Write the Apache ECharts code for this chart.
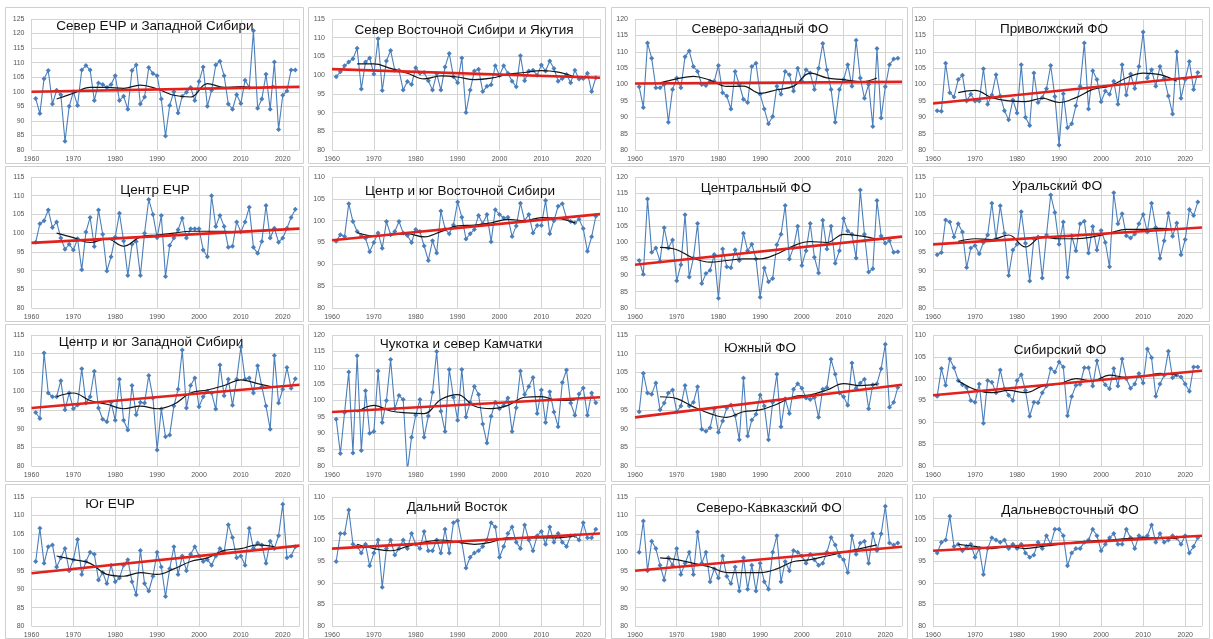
<!DOCTYPE html>
<html><head><meta charset="utf-8">
<script src="https://cdn.jsdelivr.net/npm/echarts@6/dist/echarts.min.js"></script>
<style>html,body{margin:0;padding:0;background:#fff}#c{width:1213px;height:639px}</style>
</head><body><div id="c"></div>
<script>
const years = [1961,1962,1963,1964,1965,1966,1967,1968,1969,1970,1971,1972,1973,1974,1975,1976,1977,1978,1979,1980,1981,1982,1983,1984,1985,1986,1987,1988,1989,1990,1991,1992,1993,1994,1995,1996,1997,1998,1999,2000,2001,2002,2003,2004,2005,2006,2007,2008,2009,2010,2011,2012,2013,2014,2015,2016,2017,2018,2019,2020,2021,2022,2023];
const maYears = [1966,1970,1974,1978,1982,1986,1990,1994,1998,2002,2006,2010,2014,2018];
const trendYears = [1960, 2024];

const titles = ["Север ЕЧР и Западной Сибири","Север Восточной Сибири и Якутия","Северо-западный ФО","Приволжский ФО",
"Центр ЕЧР","Центр и юг Восточной Сибири","Центральный ФО","Уральский ФО",
"Центр и юг Западной Сибири","Чукотка и север Камчатки","Южный ФО","Сибирский ФО",
"Юг ЕЧР","Дальний Восток","Северо-Кавказский ФО","Дальневосточный ФО"];
const yMax = [125,115,120,120, 115,110,120,115, 115,120,115,110, 115,110,115,110];

const v01 = [97.7,92.5,104.5,107.3,95.8,100.5,99,83,95,100, 95.3,107.5,109,107.5,97,103,102.5,101.5,102.5,105.5, 97,98.5,94,107.3,109.2,95.8,98.2,108.3,106.3,105.5, 97.5,84.8,95.3,100,92.7,98.5,99.8,101.5,97,103.5, 108.5,95,100.5,109.2,110.5,105.5,95.8,94,99,96, 104,101.5,121,94.3,97.5,106,94,110.2,87,98.8, 100.3,107.5,107.5];
const v02 = [99.6,100.9,102.5,103.5,104.4,107.2,96.3,103.5,104.6,100.3, 109.7,95.9,103.8,106.6,101.3,101.3,96,98.3,97.5,102, 100.5,100.7,98.5,96,100.4,96,102.2,105.8,99.6,98, 104.6,90,96,101.1,101.6,95.6,97,97.4,102.5,99.9, 102.5,100.5,98.4,96.9,105.2,98.5,101.1,101.3,100,102.7, 101.1,103.8,101.8,98.4,99.1,100.2,98,101.3,99,99.1, 100.5,95.6,99.3];
const v03 = [99.3,93,112.7,108,99,99,100,88.5,98.5,102, 99,108.5,110.2,105.5,104,100,99.7,101,101,105.8, 97.5,96.5,92.5,104,100,95.5,94.5,105.5,106.5,97, 92.5,88,90.2,99.5,97,104,103,98,105,101, 104.5,103.5,98.5,105,112.5,104.5,98.5,88.5,98.5,101.5, 106,99.5,113.5,102,95.8,100,87.2,111,89.8,99.3, 106,107.8,108];
const v04 = [92,91.8,106.5,97.5,96.2,101.5,102.8,95,97,95, 95,104.8,94,96.8,103,96.5,92,89.2,95.3,91.3, 106,90,87.5,103.5,94.5,96,98.7,105.8,96.3,81.5, 97.2,86.8,88,93.5,99.5,112.7,92.5,104.2,101.5,94.7, 98,97,101,94,106,96.8,103.2,98.8,105.5,116, 102,104.5,99.5,105.5,102,96.5,91,110,95.8,101.5, 107,98.5,103.7];
const v05 = [97.6,102.5,103.3,106.2,101.5,103,98.7,95.7,97,95.5, 98.5,90.2,100.3,104.2,96.4,106.2,99.7,89.9,93.7,99, 105.3,97.9,88.7,97,97.8,88.7,100,109,105,98.8, 104.7,88.4,96.7,98.7,100.9,104,98.7,101.2,101.2,101.2, 95.5,93.7,110,101.8,104.7,101.8,96.2,96.5,103,100.3, 103,106.9,96.2,94.6,97.8,107.4,98.7,101.3,97.6,98.7, 101.3,104.2,106.4];
const v06 = [95.3,96.8,96.4,103.9,99.8,97.5,96.5,96,92.9,95, 97.2,93.7,99.8,96.8,97.5,99.8,97.2,96.6,95,98, 97.5,94.2,90.9,95.4,92.6,102.2,98.1,97,99,104.3, 100.8,95.8,97,98,101.2,99.3,101.4,95.2,102.5,101.4, 100.6,100.8,96.4,98.8,104,100,101.4,97.2,98.9,98.9, 104.6,97,100,103.3,103.9,100.6,99.8,99.5,100.3,98.2, 93,96.3,101];
const v07 = [94.5,90.3,113.3,97,98.3,94.3,104.5,98.3,100.8,88.3, 93.2,108.5,89.5,95.3,105.8,87.5,90.5,91.5,96.3,83, 98,92.6,92.3,97.8,94.5,102.8,97.5,99.5,95,83.3, 92.2,88,89,99.3,102.5,111.3,95,98.5,105,93, 97.5,105.8,95.5,90.7,106.8,98,105,93.7,97.5,107.3, 103.5,102.5,95.3,116,102.5,91,92,112.8,102,99.8, 100.5,97,97.2];
const v08 = [94.2,94.8,103.5,103,99,102.5,100.3,90.8,96,96.7, 94.5,97.5,99.5,108,98.5,107.3,100,88.7,95.5,97, 105.7,97.3,87.2,98.5,99,88,99.5,110.2,105.5,97, 103,88.2,99.3,95.3,102.5,103.2,94.7,101.8,95.5,100.7, 97.5,91,110.8,102.5,105.2,99.3,98.7,99.8,102.5,105, 100.3,108,101.5,93.3,98,105.3,99.2,102.7,94.2,98.3, 106.3,104.7,108.3];
const v09 = [94.3,92.7,110.2,99.5,98.5,98.5,102.8,95,99.5,95.3, 96.3,106,96.8,98.5,105.3,95.5,92.5,91.8,97,92.2, 103.2,92.2,89.6,101.5,93.7,97,96.8,104.2,98.2,84.3, 95.2,87.8,88.3,96,100.5,111,95.5,101.5,103.5,95.8, 98.5,100,99.5,95.2,107,98.8,103.2,96.2,103.2,111.8, 103.2,103.5,99.5,106.8,101.2,96,89.8,109.5,96.8,100.5, 106.3,100.8,103.3];
const v10 = [94.3,83.8,96.3,108.7,84,113.7,84.7,103,90,90.5, 109,93.3,100,112.5,97.5,101.5,100.3,78.5,88.8,95.5, 100.3,88.8,95.3,102.5,115,96.7,90.5,109.5,101,94, 109.5,95,99.5,104.3,101.8,92.8,87,95.2,99.5,97.5, 98.5,100.8,90.5,97.8,109,101.8,104.3,107,96,103.2, 93.3,102.7,96.5,92,105.5,109.3,99.2,95.5,102,103.8, 95.5,102.3,99.3];
const v11 = [94.5,104.8,99.5,99.2,102.2,95,96.8,99.5,100.3,94.5, 96,101.5,96,97,101.2,89.8,89.3,90.2,95.3,89, 92,95.5,96.3,93.5,87,103.5,88,92.3,93.8,99, 96,87,97,104.5,90.5,98,94,100.5,102,100.8, 98.2,97.8,98.3,93,100.5,101,108.5,104.5,99.5,98.5, 96.2,107.5,100.8,102.2,103.2,95.3,101.7,102,106,112.5, 95.7,97,101];
const v12 = [96,102.3,98.5,104.5,102.5,99.6,98.6,98,95,94.6, 98.8,89.8,99.6,99.2,96.8,102,97.7,96.2,95,99.6, 100.9,97.3,91.4,94.6,94.5,96.8,98.3,102.3,101.5,103.8, 102.7,91.5,95.9,98.5,98.7,102.5,102.5,98.3,104.1,100, 98.6,97.7,102.3,98.3,104.5,100,97.8,98.8,101.2,99, 106.8,104.8,96,98.8,100.8,106.3,100.2,100.8,100.4,98.8, 97.1,102.7,102.7];
const v13 = [97.5,106.5,97,101.5,102,96,98.5,101,95,98, 103.5,94,97.5,100,99.5,92.5,94.5,91.5,96.5,92, 93,96.5,98,92,88.5,100.5,91.5,89.5,93.5,100, 96,88,95.5,101.5,94,99,95,99.5,101.5,99, 97.5,98,96.5,99,101,100,107.5,104,98.5,99, 96.5,106.5,101,102.5,102,97,103,101,104.5,113, 98.5,99,101.5];
const v14 = [95,101.5,101.5,107,99,98.5,97,99,94,97, 100,89,98,100,96.5,98,100,98,101.5,99, 98,102,97.5,97.5,100,97,102.5,97,104,104.5, 99.5,93.5,96,97,97.5,98.5,100,104,103,96, 98.5,101.5,103,99.5,98,103.5,100,97.5,101,102, 99,103,99.5,101.5,99.5,98.5,101,101,100,104, 100.5,100.5,102.5];
const v15 = [100,108.5,95,103,101,96.5,92.5,98.5,96.5,101, 94,97,100,94,105.5,97,100,92,95.5,93, 99,93.5,91.5,96,89.5,98.5,90,96.5,89.5,97, 92,90,100,104.5,92,97.5,95,100.5,100,99, 97,99.5,98,96.5,97,100,104,102,99,98, 94.5,104.5,99.5,102.5,103,97,105,100.5,105,112.5, 102.5,102,102.5];
const v16 = [97,99.5,100,105.5,98.5,99,97.5,98.5,99,96, 98,92,98,100.5,100,99.5,100,98,99,98, 99,97,96,96.5,99.5,98,101,99,102.5,102.5, 101,94,97,98,98,99.5,100,102.5,101,97.5, 99,100.5,101.5,99,99,102.5,100.5,98,101,100.5, 101,103.5,99.5,101.5,99.5,100,101,100.5,99,101, 97,98.5,100.5];

const ma01 = [97.5,99.5,101.5,101.5,101.2,102.3,101,98.8,98.2,102.8,101.5,101.8,101.3,102];
const ma02 = [103,103,101.8,100.5,99,99.8,99.5,98.8,99.2,100.2,100.7,101.2,100.8,99.5];
const ma03 = [100.5,101.7,102.5,101.3,99.4,99.5,97.3,98.4,99.5,103.5,102,101.5,100.8,102];
const ma04 = [97.5,98.2,96,95,94.8,95.8,94.5,96,98.5,99.5,102,103.5,103,101];
const ma05 = [100,98.8,97.5,98.5,96.5,99,99.5,100,100.5,100.5,100.5,100.3,100.5,101];
const ma06 = [97.3,96.5,96.8,97,96.3,97.5,98.8,99,99.5,100.3,100,100.7,100.5,99.5];
const ma07 = [98.5,97.8,95.2,94,94.5,95,95,96.5,99,100.3,100,102.5,102,101];
const ma08 = [97.8,98.5,98.3,99.5,96.3,99,98.5,98.5,99,100,101,101,101.3,101];
const ma09 = [98.5,99.5,97.5,96.5,95.3,96,95.3,96.5,99.5,100.3,101.5,103,102,101];
const ma10 = [96.5,98.5,96.8,96.2,96,100.3,101.8,98.3,97.5,98.5,101,101.2,100,100.2];
const ma11 = [98.5,98,95.8,94,93,94.5,95,96.5,98.5,99,100.3,102,101.5,101.8];
const ma12 = [99.5,97.5,96.8,97.3,96.8,98.3,98.8,100,99.5,100.8,100.3,100.5,101.2,100.8];
const ma13 = [99,98,97,94,93.5,94.5,94,95.5,97.5,98.5,100.5,101,102,101.5];
const ma14 = [99,98,97.5,98.5,99.5,100,99.5,99,99.5,100.5,100.5,100.5,100.5,101];
const ma15 = [98.5,98,97,96,94.5,94.5,94.5,95.5,97.5,98,99,100,101,102];
const ma16 = [99,98.5,98,98.5,98,98.5,99,99.5,99.8,100,100.3,100.5,100.5,100.3];

const tr01=[100,101.7], tr02=[101.6,99.3], tr03=[100.3,100.8], tr04=[94.2,102.5],
      tr05=[97.4,101.2], tr06=[95.5,101.5], tr07=[93.2,101.8], tr08=[97,101.5],
      tr09=[95.5,101.7], tr10=[96.5,101], tr11=[93,101.7], tr12=[96.2,101.8],
      tr13=[94.3,101.8], tr14=[98,101.5], tr15=[95,101.5], tr16=[97.5,101];

const values = [v01,v02,v03,v04,v05,v06,v07,v08,v09,v10,v11,v12,v13,v14,v15,v16];
const mas = [ma01,ma02,ma03,ma04,ma05,ma06,ma07,ma08,ma09,ma10,ma11,ma12,ma13,ma14,ma15,ma16];
const trends = [tr01,tr02,tr03,tr04,tr05,tr06,tr07,tr08,tr09,tr10,tr11,tr12,tr13,tr14,tr15,tr16];

// layout
const colLeft = [31.5, 332, 635, 933];
const colWidth = [268, 268, 267, 269];
const rowTop = [19, 177, 335, 497];
const rowHeight = [131, 131, 131, 130];
const titlePos = [[155,26],[464,30],[760,29],[1054,29],[155,190],[460,191],[756,188],[1057,186],[151,342],[461,344],[760,348],[1060,350],[110,504],[457,507],[769,508],[1070,510]];
const frameX = [[5,303],[308,605],[611,907],[912,1209]];
const frameY = [[7,163],[166,321],[324,481],[484,638]];

const FONT = '"Liberation Sans", Arial, sans-serif';
const grids=[], xAxes=[], yAxes=[], series=[], graphics=[];
for (let i=0;i<16;i++){
  const r=Math.floor(i/4), c=i%4;
  grids.push({left:colLeft[c], top:rowTop[r], width:colWidth[c], height:rowHeight[r]});
  xAxes.push({type:'value', gridIndex:i, min:1960, max:2024, interval:10,
    axisLine:{show:false}, axisTick:{show:false},
    splitLine:{show:true, lineStyle:{color:'#d4d4d4', width:1}},
    axisLabel:{fontSize:7, color:'#555', fontFamily:FONT, margin:6, showMaxLabel:false, formatter:v=>String(v)}});
  yAxes.push({type:'value', gridIndex:i, min:80, max:yMax[i], interval:5,
    axisLine:{show:false}, axisTick:{show:false},
    splitLine:{show:true, lineStyle:{color:'#d4d4d4', width:1}},
    axisLabel:{fontSize:7, color:'#555', fontFamily:FONT, margin:7}});
  series.push({type:'line', xAxisIndex:i, yAxisIndex:i, data:years.map((y,k)=>[y, values[i][k]]),
    symbol:'diamond', symbolSize:5, showSymbol:true, clip:true,
    lineStyle:{color:'#4a7fbb', width:1.1}, itemStyle:{color:'#4a7fbb'}, z:2, silent:true, animation:false});
  series.push({type:'line', xAxisIndex:i, yAxisIndex:i, data:maYears.map((y,k)=>[y, mas[i][k]]),
    symbol:'none', smooth:0.4, clip:true, lineStyle:{color:'#151515', width:1.2}, z:3, silent:true, animation:false});
  series.push({type:'line', xAxisIndex:i, yAxisIndex:i, data:trendYears.map((y,k)=>[y, trends[i][k]]),
    symbol:'none', clip:true, lineStyle:{color:'#e2211c', width:2.6}, z:4, silent:true, animation:false});
  graphics.push({type:'text', x:titlePos[i][0], y:titlePos[i][1], z:10,
    style:{text:titles[i], fontSize:13.5, fontFamily:FONT, fill:'#111', align:'center', verticalAlign:'middle'}});
}
for (let r=0;r<4;r++) for (let c=0;c<4;c++){
  graphics.push({type:'rect', z:0, shape:{x:frameX[c][0]+0.5, y:frameY[r][0]+0.5, width:frameX[c][1]-frameX[c][0], height:frameY[r][1]-frameY[r][0]},
    style:{fill:null, stroke:'#cfcfcf', lineWidth:1}});
}
const chart = echarts.init(document.getElementById('c'), null, {renderer:'canvas'});
chart.setOption({animation:false, grid:grids, xAxis:xAxes, yAxis:yAxes, series:series, graphic:graphics});
</script></body></html>
